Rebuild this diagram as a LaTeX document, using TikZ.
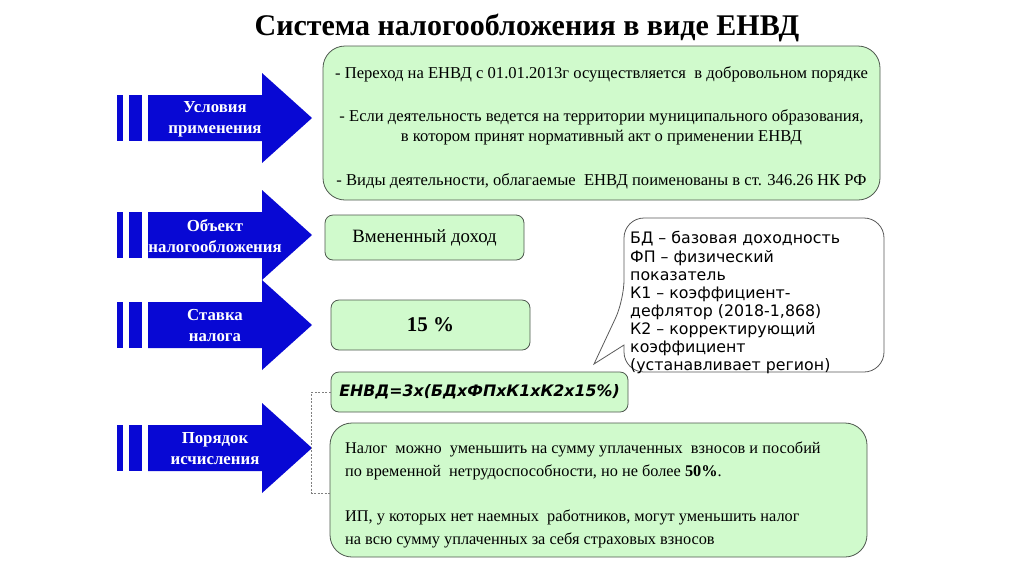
\documentclass[tikz,border=0pt]{standalone}
\usepackage{fontspec}
\setmainfont{Liberation Serif}
\newfontfamily\calfont{DejaVu Sans}
\definecolor{arrowblue}{RGB}{8,8,212}
\definecolor{boxgreen}{RGB}{208,250,204}
\definecolor{boxborder}{RGB}{78,88,78}
\definecolor{callborder}{RGB}{90,90,90}
\tikzset{
  pics/bluearrow/.style={code={
    \fill[arrowblue] (117,-23) rectangle (123,23);
    \fill[arrowblue] (129,-23) rectangle (142,23);
    \fill[arrowblue] (148,-23) -- (262,-23) -- (262,-45) -- (312,0) -- (262,45) -- (262,23) -- (148,23) -- cycle;
  }},
  arrowlbl/.style={text=white, font=\bfseries\fontsize{16.8}{21}\selectfont, align=center, inner sep=0pt},
  greenbox/.style={draw=boxborder, fill=boxgreen, rounded corners=#1, line width=0.8pt},
  bracket/.style={draw=gray, line width=0.5pt, dash pattern=on 2pt off 1.5pt},
}
\begin{document}
\begin{tikzpicture}[x=1pt,y=-1pt]
\useasboundingbox[fill=white] (0,0) rectangle (1024,574);

\node[font=\bfseries\fontsize{30}{34}\selectfont] (title) at (527,28) {Система налогообложения в виде ЕНВД};

% arrows
\pic at (0,118) {bluearrow};
\pic at (0,235) {bluearrow};
\pic at (0,325) {bluearrow};
\pic at (0,448) {bluearrow};
\node[arrowlbl] (a1) at (215,119) {Условия\\применения};
\node[arrowlbl] (a2) at (215,236) {Объект\\налогообложения};
\node[arrowlbl] (a3) at (215,326) {Ставка\\налога};
\node[arrowlbl] (a4) at (215,449) {Порядок\\исчисления};

% box 1
\node[greenbox=22, minimum width=557pt, minimum height=154pt] (b1) at (601.5,123) {};
\node[font=\fontsize{16.6}{20}\selectfont, align=center, inner sep=0pt] (t1) at (601.5,128)
{- Переход на ЕНВД с 01.01.2013г осуществляется\ \ в добровольном порядке\\[23pt]
 - Если деятельность ведется на территории муниципального образования,\\
 в котором принят нормативный акт о применении ЕНВД\\[24pt]
 - Виды деятельности, облагаемые\ \ ЕНВД поименованы в ст. 346.26 НК РФ};

% box 2, 3
\node[greenbox=8, minimum width=199pt, minimum height=45pt, font=\fontsize{18.8}{22}\selectfont] (b2) at (424.5,237.5) {Вмененный доход};
\node[greenbox=8, minimum width=199pt, minimum height=50pt, font=\bfseries\fontsize{21}{24}\selectfont] (b3) at (430.5,325) {15 \%};

% formula
\node[greenbox=8, minimum width=297pt, minimum height=40pt, font=\calfont\bfseries\itshape\fontsize{15.8}{18}\selectfont] (b4) at (479.5,392) {ЕНВД=3х(БДхФПхК1хК2х15\%)};

% box 5
\node[greenbox=22, minimum width=537pt, minimum height=134pt] (b5) at (598.5,490) {};
\node[anchor=west, align=left, inner sep=0pt, font=\fontsize{16.3}{23}\selectfont] (t5) at (345,494.5)
{Налог\ \ можно\ \ уменьшить на сумму уплаченных\ \ взносов и пособий\\
по временной\ \ нетрудоспособности, но не более \textbf{50\%}.\\[22pt]
ИП, у которых нет наемных\ \ работников, могут уменьшить налог\\
на всю сумму уплаченных за себя страховых взносов};

% callout
\draw[draw=callborder, fill=white, line width=0.8pt] (624,300) [sharp corners] -- (594,364) -- (624,345) [rounded corners=20pt] -- (624,372) -- (884,372) -- (884,218) -- (624,218) -- cycle;
\node[anchor=north west, align=left, inner sep=0pt, font=\calfont\fontsize{15.8}{18.1}\selectfont] (call) at (630,231.5)
{БД – базовая доходность\\
ФП – физический\\
показатель\\
К1 – коэффициент-\\
дефлятор (2018-1,868)\\
К2 – корректирующий\\
коэффициент\\
(устанавливает регион)};

% dashed bracket
\coordinate (br) at (330,493);
\draw[bracket] (b4.west) -- ++(-19,0) coordinate (bk) -- (bk |- br) -- (br);
\end{tikzpicture}
\end{document}
